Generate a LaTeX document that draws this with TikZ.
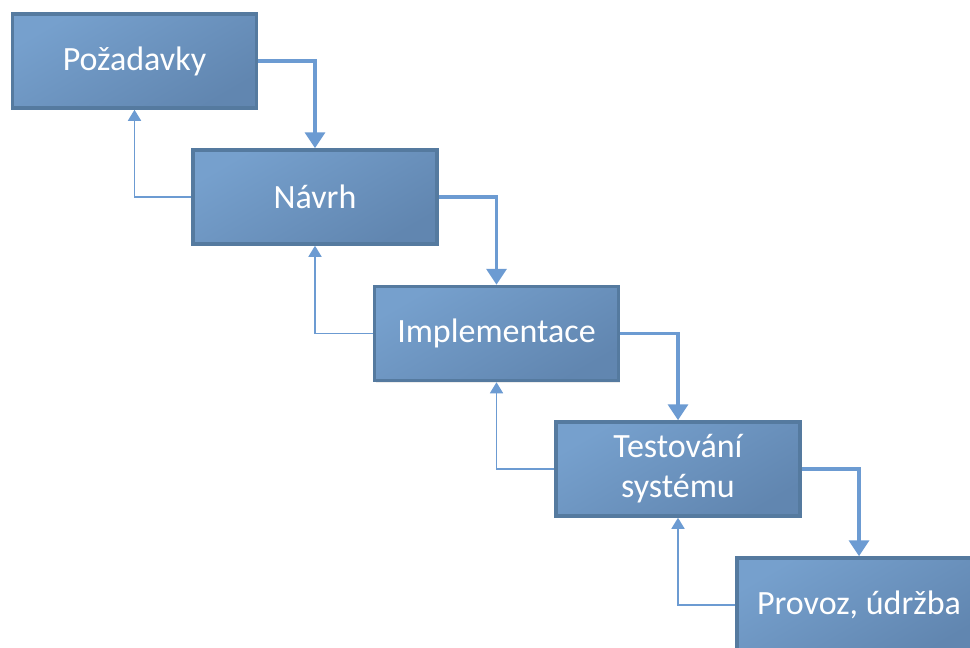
\documentclass[tikz,border=0pt]{standalone}
\usepackage{fontspec}
\setmainfont{Carlito}
\usetikzlibrary{arrows.meta,shadows}
\definecolor{boxedge}{HTML}{557A9F}
\definecolor{boxlight}{HTML}{76A0CD}
\definecolor{boxdark}{HTML}{6186B0}
\definecolor{flow}{HTML}{6C9BD2}
\tikzset{
  phase/.style={rectangle, draw=boxedge, line width=3.5pt,
    top color=boxlight, bottom color=boxdark, shading angle=30,
    minimum width=244pt, minimum height=94pt, inner sep=0pt,
    text=white, align=center, font=\fontsize{34}{40}\selectfont,
    drop shadow={opacity=0.15, shadow xshift=1.5pt, shadow yshift=-2pt}},
  forward/.style={draw=flow, line width=3.5pt,
    -{Triangle[width=20pt,length=16pt]}},
  backward/.style={draw=flow, line width=1.6pt,
    -{Triangle[width=13pt,length=11pt]}}
}
\begin{document}
\begin{tikzpicture}[x=1pt,y=-1pt]
  \useasboundingbox (0,0) rectangle (970,648);
  \clip (0,0) rectangle (970,648);

  \node[phase] (req)  at (134.5,61)    {Požadavky};
  \node[phase] (des)  at (315,197)     {Návrh};
  \node[phase] (impl) at (496.5,333.5) {Implementace};
  \node[phase] (test) at (678,469)     {Testování\\systému};
  \node[phase] (ops)  at (859,605)     {Provoz, údržba};

  % downward flow between phases
  \draw[forward] (req.east)  -| (des.north);
  \draw[forward] (des.east)  -| (impl.north);
  \draw[forward] (impl.east) -| (test.north);
  \draw[forward] (test.east) -| (ops.north);

  % feedback to the previous phase
  \draw[backward] (des.west)  -| (req.south);
  \draw[backward] (impl.west) -| (des.south);
  \draw[backward] (test.west) -| (impl.south);
  \draw[backward] (ops.west)  -| (test.south);
\end{tikzpicture}
\end{document}
